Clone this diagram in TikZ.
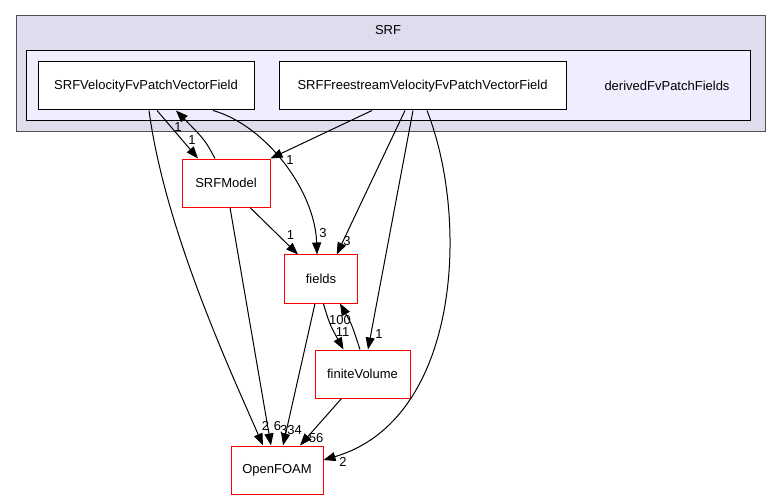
\documentclass[tikz,border=0pt]{standalone}
\usepackage{fontspec}
\setmainfont{Liberation Sans}
\usetikzlibrary{arrows.meta}
\definecolor{srfbg}{HTML}{DDDDEE}
\definecolor{derivbg}{HTML}{EEEEFF}
\definecolor{clusterline}{HTML}{505050}
\definecolor{pkgred}{HTML}{FF0000}
\tikzset{
  dirbox/.style={draw=black, fill=white, minimum height=48pt, inner sep=0pt, line width=1pt, font=\fontsize{13}{15}\selectfont},
  pkgbox/.style={draw=pkgred, fill=white, minimum height=48pt, inner sep=0pt, line width=1pt, font=\fontsize{13}{15}\selectfont},
  dep/.style={-{Triangle[length=12pt,width=9pt]}, line width=1pt},
  cnt/.style={inner sep=0pt, font=\fontsize{13}{15}\selectfont}
}
\begin{document}
\begin{tikzpicture}[x=1pt,y=-1pt]
\useasboundingbox (0,0) rectangle (776,500);
% clusters
\draw[clusterline, fill=srfbg, line width=1pt] (16,16) rectangle (765,132);
\node[cnt] (srf) at (388,30) {SRF};
\draw[black, fill=derivbg, line width=1pt] (26,51) rectangle (750,121);
\node[cnt] (derived) at (667,86) {derivedFvPatchFields};
% nodes
\node[dirbox, minimum width=216pt] (vel) at (146,86) {SRFVelocityFvPatchVectorField};
\node[dirbox, minimum width=287pt] (free) at (422.5,86) {SRFFreestreamVelocityFvPatchVectorField};
\node[pkgbox, minimum width=88pt] (model) at (226,183) {SRFModel};
\node[pkgbox, draw=none, minimum width=72pt] (flds) at (321,279) {fields};
\draw[pkgred, line width=1pt] (flds.south west) rectangle (flds.north east);
\node[pkgbox, minimum width=95pt] (fv) at (362.5,374) {finiteVolume};
\node[pkgbox, minimum width=92pt] (foam) at (277,470) {OpenFOAM};
% edges
\draw[dep] ([xshift=11pt]vel.south) -- ([xshift=-28pt]model.north);
\draw[dep] ([xshift=-11pt]model.north) .. controls (205,140) .. ([xshift=30pt]vel.south);
\draw[dep] ([xshift=67pt]vel.south) .. controls (265,125) and (315,190) .. ([xshift=-4pt]flds.north);
\draw[dep] ([xshift=3pt]vel.south) .. controls (165,230) and (230,370) .. ([xshift=-14pt]foam.north);
\draw[dep] ([xshift=-50.5pt]free.south) -- (model.north east);
\draw[dep] ([xshift=-17.5pt]free.south) -- ([xshift=15.7pt]flds.north);
\draw[dep] ([xshift=-9.5pt]free.south) -- ([xshift=5.5pt]fv.north);
\draw[dep] ([xshift=4.5pt]free.south) .. controls (470,220) and (460,420) .. ([yshift=10pt]foam.east);
\draw[dep] ([xshift=24pt]model.south) -- ([xshift=-23pt]flds.north);
\draw[dep] ([xshift=4pt]model.south) -- ([xshift=-6pt]foam.north);
\draw[dep] ([xshift=2.3pt]flds.south) .. controls (330,325) .. ([xshift=-19pt]fv.north);
\draw[dep] ([xshift=-2.5pt]fv.north) .. controls (352,325) .. ([xshift=19pt]flds.south);
\draw[dep] ([xshift=-6pt]flds.south) -- ([xshift=6pt]foam.north);
\draw[dep] ([xshift=-21pt]fv.south) -- ([xshift=23pt]foam.north);
% counts
\node[cnt] (c1) at (192,140) {1};
\node[cnt] (c2) at (178,127) {1};
\node[cnt] (c3) at (323,233) {3};
\node[cnt] (c4) at (265.5,426) {2};
\node[cnt] (c5) at (290,160) {1};
\node[cnt] (c6) at (347,241) {3};
\node[cnt] (c7) at (379,334) {1};
\node[cnt] (c8) at (343,462) {2};
\node[cnt] (c9) at (290.5,235) {1};
\node[cnt] (c10) at (277.5,426) {6};
\node[cnt] (c11) at (342.5,332) {11};
\node[cnt] (c12) at (340,320) {100};
\node[cnt] (c13) at (291,430) {334};
\node[cnt] (c14) at (316,438) {56};
\end{tikzpicture}
\end{document}
